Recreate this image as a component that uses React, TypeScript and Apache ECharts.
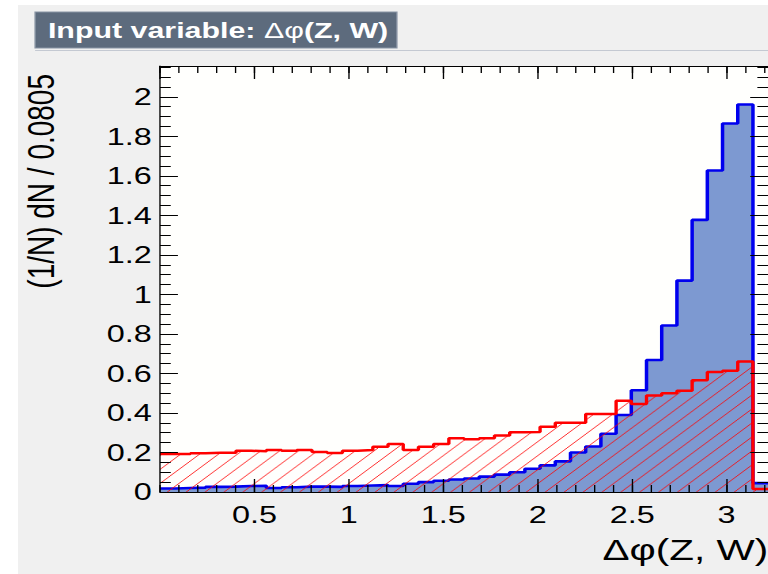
import { useEffect, useRef } from "react";
import * as echarts from "echarts";

// Histogram binning of Δφ(Z, W)
const BIN_WIDTH = 0.0805;
const X_MIN = 0;
const X_MAX = 3.22;
const Y_MIN = 0;
const Y_MAX = 2.156;

// Signal, normalised per bin (40 bins)
const signal = [
  0.018, 0.02, 0.022, 0.026, 0.027, 0.03, 0.031, 0.02, 0.024, 0.027,
  0.027, 0.026, 0.03, 0.033, 0.035, 0.03, 0.042, 0.05, 0.057, 0.063,
  0.068, 0.078, 0.088, 0.1, 0.118, 0.135, 0.155, 0.2, 0.23, 0.295,
  0.39, 0.515, 0.668, 0.843, 1.07, 1.377, 1.627, 1.865, 1.961, 0.045,
];

// Background, normalised per bin (40 bins)
const background = [
  0.192, 0.192, 0.196, 0.199, 0.199, 0.209, 0.206, 0.213, 0.209, 0.213,
  0.202, 0.197, 0.209, 0.212, 0.229, 0.243, 0.213, 0.229, 0.243, 0.272,
  0.267, 0.272, 0.286, 0.302, 0.304, 0.33, 0.35, 0.351, 0.395, 0.395,
  0.462, 0.445, 0.488, 0.5, 0.512, 0.565, 0.607, 0.614, 0.66, 0.015,
];

const TITLE = "Input variable: ";
const VAR_SYMBOL = "Δφ";
const VAR_ARGS = "(Z, W)";
const X_TITLE = "Δφ(Z, W)";
const Y_TITLE = "(1/N) dN / 0.0805";

// The canvas is laid out narrow and widened horizontally
const STRETCH = 1.35;
const W = 569;
const H = 574;

const FONT = "'Liberation Sans', Arial, Helvetica, sans-serif";

function stepPoints(values: number[]) {
  const pts = values.map((v, i) => [+(i * BIN_WIDTH).toFixed(4), v]);
  pts.push([+(values.length * BIN_WIDTH).toFixed(4), values[values.length - 1]]);
  return pts;
}

function hatchPattern() {
  const s = 14;
  const c = document.createElement("canvas");
  c.width = s;
  c.height = s;
  const g = c.getContext("2d")!;
  g.strokeStyle = "rgba(255,0,0,0.8)";
  g.lineWidth = 1;
  g.beginPath();
  g.moveTo(0, s);
  g.lineTo(s, 0);
  g.moveTo(-s / 2, s / 2);
  g.lineTo(s / 2, -s / 2);
  g.moveTo(s / 2, s * 1.5);
  g.lineTo(s * 1.5, s / 2);
  g.stroke();
  return { image: c, repeat: "repeat", imageWidth: s, imageHeight: s };
}

const fmt = (v: number) => String(Math.round(v * 1000) / 1000);

function xAxisDef(grid: number, pos: "top" | "bottom", interval: number, tickLen: number, labels: boolean) {
  return {
    type: "value",
    gridIndex: grid,
    position: pos,
    min: X_MIN,
    max: X_MAX,
    interval,
    z: 10,
    axisLine: { show: grid === 0, onZero: false, lineStyle: { color: "#000", width: 1 } },
    axisTick: { show: true, inside: true, length: tickLen, lineStyle: { color: "#000", width: 1 } },
    splitLine: { show: false },
    axisLabel: {
      show: labels,
      showMinLabel: false,
      showMaxLabel: false,
      formatter: fmt,
      color: "#000",
      fontSize: 24,
      fontFamily: FONT,
      margin: 11,
    },
  };
}

function yAxisDef(grid: number, pos: "left" | "right", interval: number, tickLen: number, labels: boolean) {
  return {
    type: "value",
    gridIndex: grid,
    position: pos,
    min: Y_MIN,
    max: Y_MAX,
    interval,
    z: 10,
    axisLine: { show: grid === 0, onZero: false, lineStyle: { color: "#000", width: 1 } },
    axisTick: { show: true, inside: true, length: tickLen, lineStyle: { color: "#000", width: 1 } },
    splitLine: { show: false },
    axisLabel: {
      show: labels,
      showMaxLabel: false,
      formatter: fmt,
      color: "#000",
      fontSize: 24,
      fontFamily: FONT,
      margin: 6,
    },
  };
}

export default function App() {
  const ref = useRef<HTMLDivElement>(null);

  useEffect(() => {
    if (!ref.current) return;
    const chart = echarts.init(ref.current, null, { renderer: "svg" });

    const gridRect = { left: 118.5, right: -0.5, top: 66, bottom: 82 };

    chart.setOption({
      animation: false,
      backgroundColor: "#ffffff",
      grid: [
        { ...gridRect, show: true, backgroundColor: "#fffffd", borderWidth: 0 },
        { ...gridRect, show: false },
      ],
      xAxis: [
        xAxisDef(0, "bottom", 0.5, 13, true),
        xAxisDef(0, "top", 0.5, 13, false),
        xAxisDef(1, "bottom", 0.1, 7, false),
        xAxisDef(1, "top", 0.1, 7, false),
      ],
      yAxis: [
        yAxisDef(0, "left", 0.2, 13.3, true),
        yAxisDef(0, "right", 0.2, 13.3, false),
        yAxisDef(1, "left", 0.05, 8, false),
        yAxisDef(1, "right", 0.05, 8, false),
      ],
      series: [
        {
          name: "Signal",
          type: "line",
          xAxisIndex: 0,
          yAxisIndex: 0,
          step: "end",
          showSymbol: false,
          data: stepPoints(signal),
          lineStyle: { color: "#0000ee", width: 2.6 },
          areaStyle: { color: "#7d99d1", opacity: 1, origin: "start" },
          z: 2,
        },
        {
          name: "Background",
          type: "line",
          xAxisIndex: 0,
          yAxisIndex: 0,
          step: "end",
          showSymbol: false,
          data: stepPoints(background),
          lineStyle: { color: "#ff0000", width: 2.5 },
          areaStyle: { color: hatchPattern(), opacity: 1, origin: "start" },
          z: 3,
        },
      ],
      graphic: [
        {
          type: "rect",
          z: -10,
          silent: true,
          shape: { x: 13.3, y: 5, width: 700, height: 700 },
          style: { fill: "#f0f0f0" },
        },
        {
          type: "line",
          z: -5,
          silent: true,
          shape: { x1: 26, y1: 50.5, x2: 700, y2: 50.5 },
          style: { stroke: "#c4c9d2", lineWidth: 1 },
        },
        {
          type: "rect",
          silent: true,
          shape: { x: 26, y: 12, width: 268, height: 36 },
          style: { fill: "#5d6b7d", stroke: "#8793a3", lineWidth: 1 },
        },
        {
          type: "text",
          silent: true,
          x: 35.5,
          y: 30,
          style: {
            text: `{b|${TITLE}}{s|${VAR_SYMBOL}}{b|${VAR_ARGS}}`,
            verticalAlign: "middle",
            rich: {
              b: { fill: "#ffffff", fontSize: 22.5, fontWeight: "bold", fontFamily: FONT },
              s: { fill: "#ffffff", fontSize: 22.5, fontWeight: "normal", fontFamily: FONT },
            },
          },
        },
        {
          type: "text",
          silent: true,
          x: 569,
          y: 550,
          style: {
            text: X_TITLE,
            fill: "#000",
            fontSize: 30,
            fontFamily: FONT,
            align: "right",
            verticalAlign: "middle",
          },
        },
        {
          type: "text",
          silent: true,
          x: 30,
          y: 74,
          rotation: Math.PI / 2,
          style: {
            text: Y_TITLE,
            fill: "#000",
            fontSize: 28,
            fontFamily: FONT,
            align: "right",
            verticalAlign: "middle",
          },
        },
      ],
    });

    return () => chart.dispose();
  }, []);

  return (
    <div
      ref={ref}
      style={{
        position: "fixed",
        left: 0,
        top: 0,
        width: W,
        height: H,
        transform: `scaleX(${STRETCH})`,
        transformOrigin: "0 0",
      }}
    />
  );
}
